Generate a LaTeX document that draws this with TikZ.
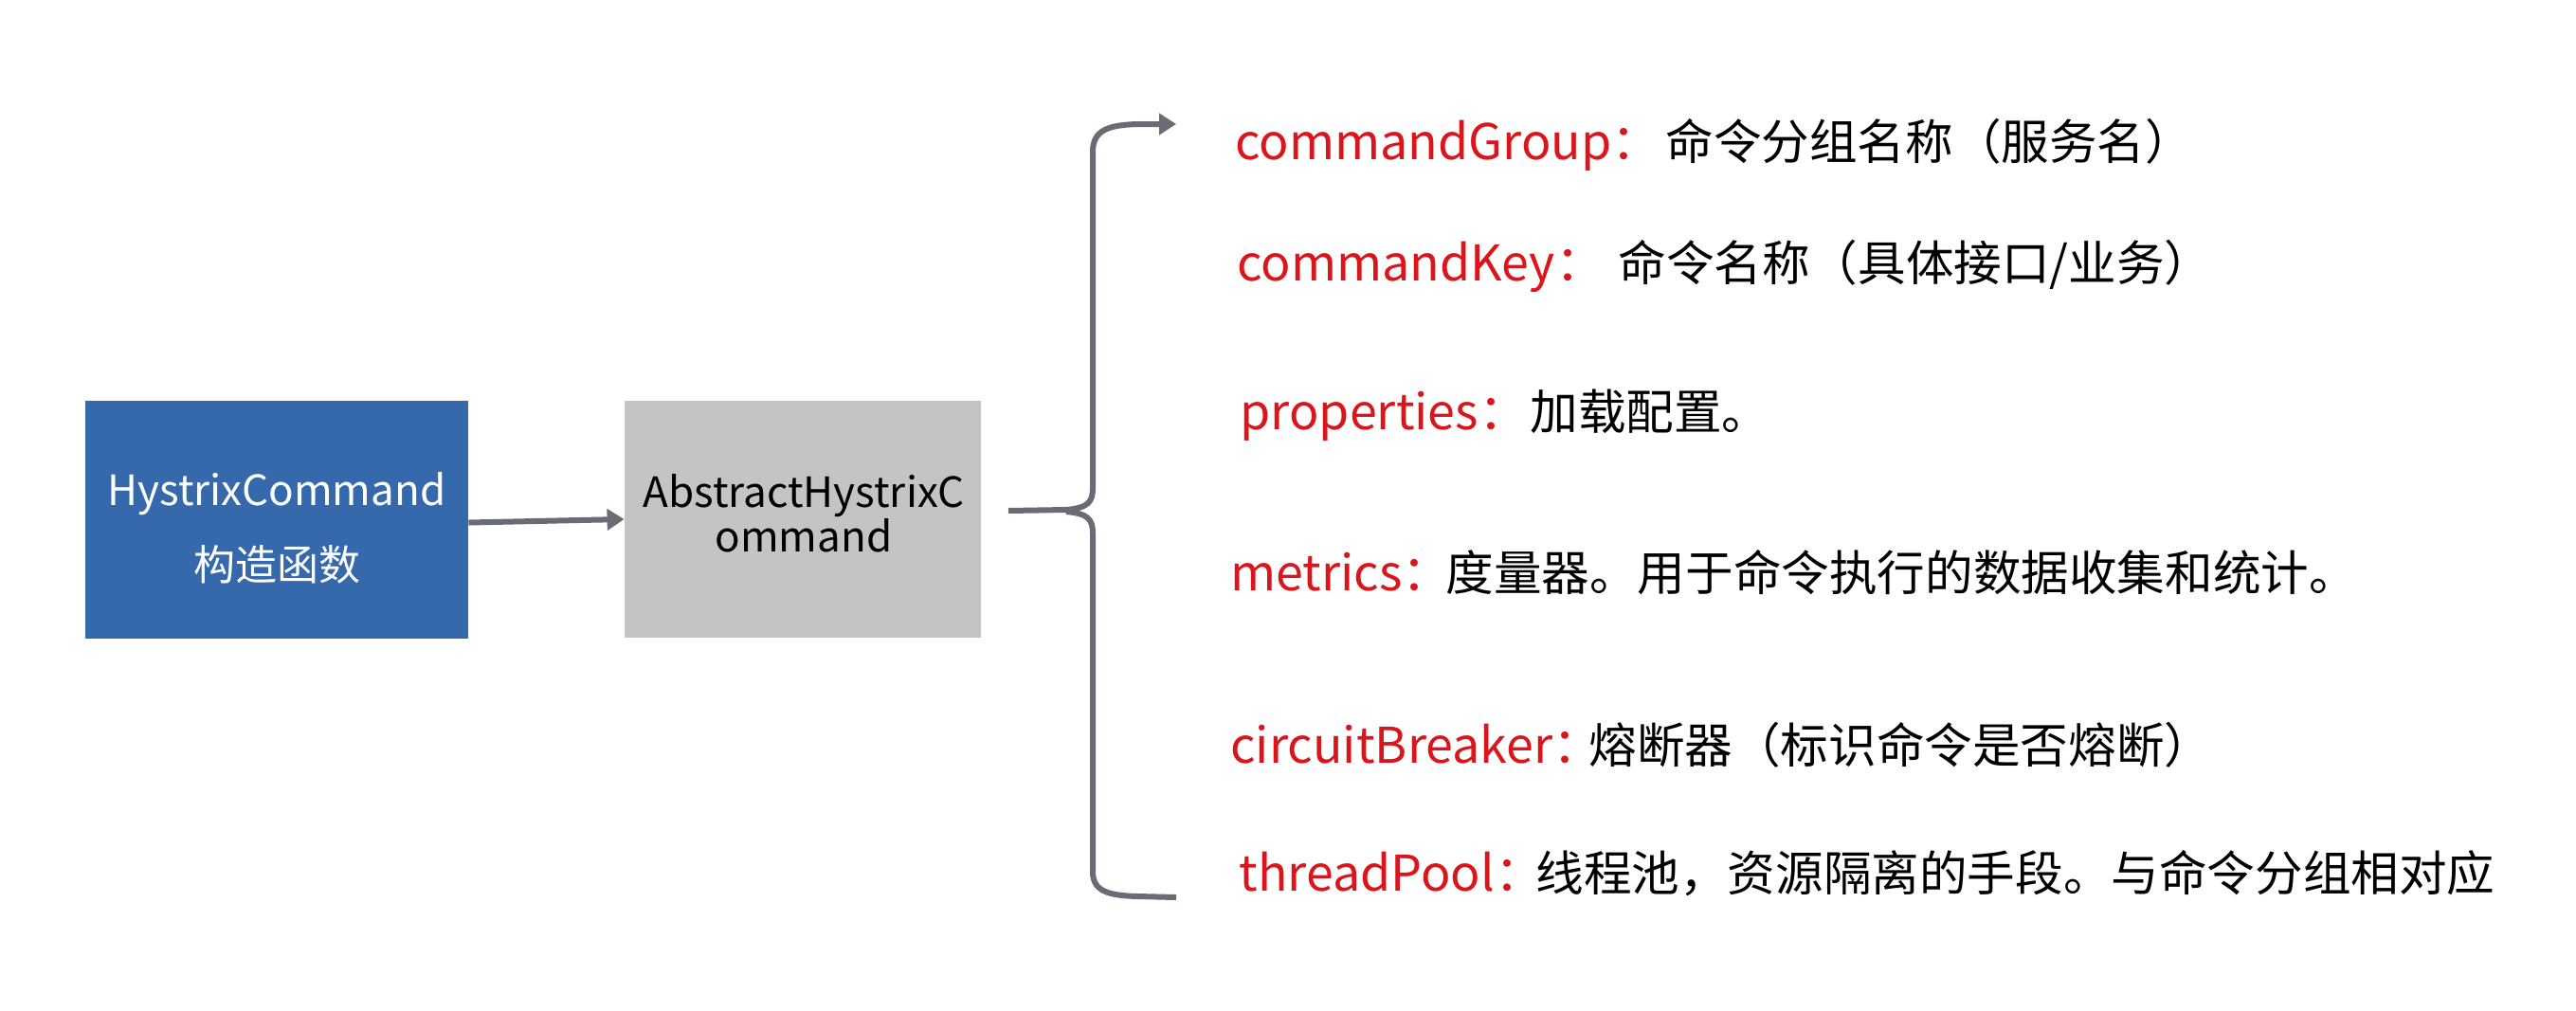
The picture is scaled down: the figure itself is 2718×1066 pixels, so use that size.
\documentclass[tikz,border=0pt]{standalone}
\usepackage{fontspec}
\setmainfont{Noto Sans CJK SC}
\usetikzlibrary{arrows.meta}
\definecolor{boxblue}{RGB}{54,105,172}
\definecolor{boxgray}{RGB}{196,196,196}
\definecolor{linegray}{RGB}{105,108,116}
\definecolor{keyred}{RGB}{218,22,28}
\begin{document}
\begin{tikzpicture}[x=0.5pt,y=-0.5pt,
  keytext/.style={anchor=base west, text=keyred, inner sep=0, font=\fontsize{26}{32}\selectfont},
  desctext/.style={anchor=base west, text=black, inner sep=0, font=\fontsize{25.3}{32}\selectfont},
  boxtext/.style={anchor=base, inner sep=0, font=\fontsize{22}{26}\selectfont},
  conn/.style={draw=linegray, line width=3pt},
  tip/.style={-{Triangle[length=9pt,width=11pt]}}]
\useasboundingbox[fill=white] (0,0) rectangle (2718,1066);
% boxes
\node[fill=boxblue, minimum width=202pt, minimum height=125.5pt, inner sep=0] (hc) at (292,548.5) {};
\node[fill=boxgray, minimum width=188pt, minimum height=125pt, inner sep=0] (ahc) at (847,548) {};
\node[boxtext, text=white] (hc1) at (292,533) {HystrixCommand};
\node[boxtext, text=white] (hc2) at (292,612) {构造函数};
\node[boxtext, text=black] (ahc1) at (848,535) {AbstractHystrixC};
\node[boxtext, text=black] (ahc2) at (848,582) {ommand};
% arrow
\draw[conn,tip] ([yshift=-1.5pt]hc.east) -- (ahc.west);
% brace
\coordinate (bs) at (1064,539);
\coordinate (bt) at (1241,131);
\coordinate (bb) at (1241,947);
\draw[conn,tip] (bs) -- (1125,538) .. controls (1148,536) and (1153,530) .. (1153,515) -- (1153,160) .. controls (1153,137) and (1170,132) .. (1200,131) -- (bt);
\draw[conn] (1125,540) .. controls (1148,542) and (1153,548) .. (1153,563) -- (1153,920) .. controls (1153,941) and (1170,945) .. (1200,946) -- (bb);
% texts
\node[keytext] (k1) at (1303,168) {commandGroup：};
\node[desctext] (d1) at (1757,168) {命令分组名称（服务名）};
\node[keytext] (k2) at (1305,296) {commandKey：};
\node[desctext] (d2) at (1707,296) {命令名称（具体接口/业务）};
\node[keytext] (k3) at (1308,453) {properties：};
\node[desctext] (d3) at (1614,453) {加载配置。};
\node[keytext] (k4) at (1298,623) {metrics：};
\node[desctext] (d4) at (1525,623) {度量器。用于命令执行的数据收集和统计。};
\node[keytext] (k5) at (1298,805) {circuitBreaker：};
\node[desctext] (d5) at (1676,805) {熔断器（标识命令是否熔断）};
\node[keytext] (k6) at (1307,940) {threadPool：};
\node[desctext] (d6) at (1620,940) {线程池，资源隔离的手段。与命令分组相对应};
\end{tikzpicture}
\end{document}
